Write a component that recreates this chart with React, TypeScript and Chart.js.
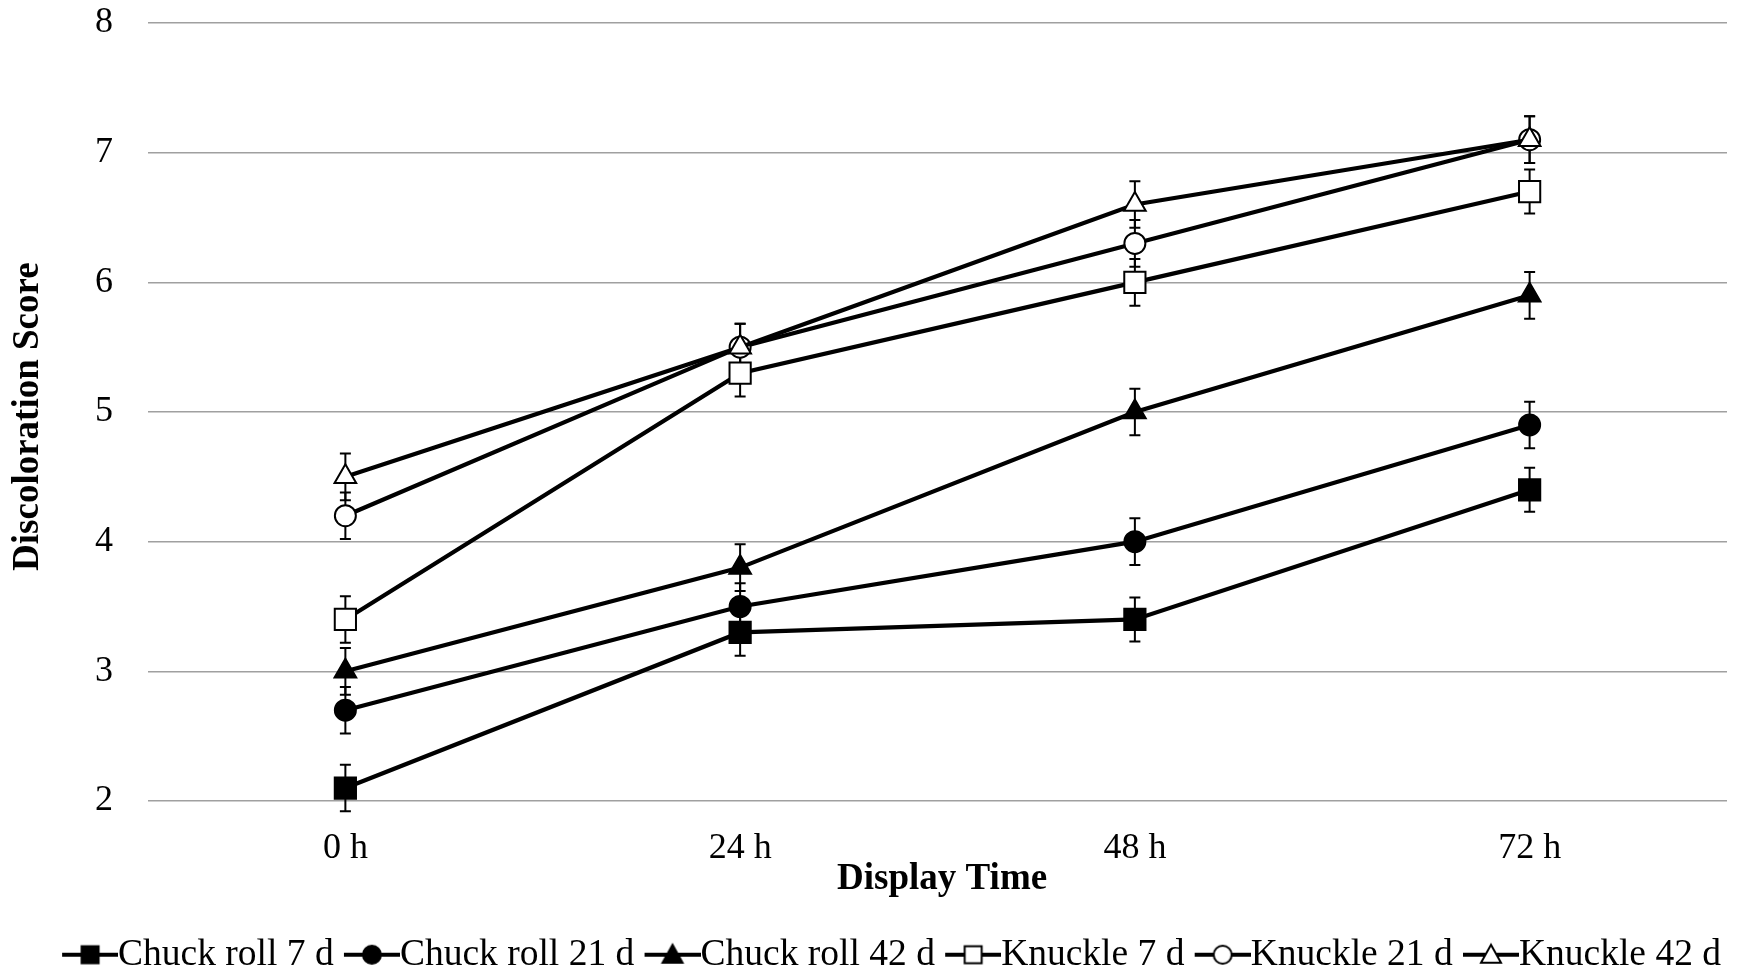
import React, { useEffect, useRef } from "react";
import { Chart, registerables } from "chart.js";

Chart.register(...registerables);

const categories = ["0 h", "24 h", "48 h", "72 h"];
const seriesNames = [
  "Chuck roll 7 d",
  "Chuck roll 21 d",
  "Chuck roll 42 d",
  "Knuckle 7 d",
  "Knuckle 21 d",
  "Knuckle 42 d",
];
const chuck7 = [2.1, 3.3, 3.4, 4.4];
const chuck21 = [2.7, 3.5, 4.0, 4.9];
const chuck42 = [3.0, 3.8, 5.0, 5.9];
const knuckle7 = [3.4, 5.3, 6.0, 6.7];
const knuckle21 = [4.2, 5.5, 6.3, 7.1];
const knuckle42 = [4.5, 5.5, 6.6, 7.1];

const chuck7Err = [0.18, 0.18, 0.17, 0.17];
const chuck21Err = [0.18, 0.18, 0.18, 0.18];
const chuck42Err = [0.18, 0.18, 0.18, 0.18];
const knuckle7Err = [0.18, 0.18, 0.18, 0.17];
const knuckle21Err = [0.18, 0.18, 0.18, 0.18];
const knuckle42Err = [0.18, 0.18, 0.18, 0.18];

const yTicks = [2, 3, 4, 5, 6, 7, 8];

const allValues = [chuck7, chuck21, chuck42, knuckle7, knuckle21, knuckle42];
const allErrors = [chuck7Err, chuck21Err, chuck42Err, knuckle7Err, knuckle21Err, knuckle42Err];
const shapes = ["rect", "circle", "triangle", "rect", "circle", "triangle"];
const filled = [true, true, true, false, false, false];

const SERIF = "'Liberation Serif', 'Times New Roman', serif";
const LEGEND_FONT = 37.5;
const LEGEND_BOX = 47.5;
const SYMBOL_W = 56;

function drawShape(ctx: CanvasRenderingContext2D, shape: string, cx: number, cy: number, fill: boolean) {
  ctx.beginPath();
  if (shape === "rect") {
    const s = 17;
    ctx.rect(cx - s / 2, cy - s / 2, s, s);
  } else if (shape === "circle") {
    ctx.arc(cx, cy, 9, 0, Math.PI * 2);
  } else {
    ctx.moveTo(cx, cy - 10);
    ctx.lineTo(cx + 10, cy + 8);
    ctx.lineTo(cx - 10, cy + 8);
    ctx.closePath();
  }
  ctx.fillStyle = fill ? "#000" : "#fff";
  ctx.fill();
  ctx.lineWidth = 2;
  ctx.strokeStyle = "#000";
  ctx.stroke();
}

// canvas width = box width + font size, so its right edge meets the text start;
// the visible symbol occupies only its right-most SYMBOL_W pixels
function makeLegendSymbol(shape: string, fill: boolean): HTMLCanvasElement {
  const c = document.createElement("canvas");
  const w = Math.round(LEGEND_BOX + LEGEND_FONT);
  c.width = w;
  c.height = 28;
  const ctx = c.getContext("2d")!;
  const x0 = w - SYMBOL_W;
  ctx.strokeStyle = "#000";
  ctx.lineWidth = 4;
  ctx.beginPath();
  ctx.moveTo(x0, 14);
  ctx.lineTo(w, 14);
  ctx.stroke();
  drawShape(ctx, shape, x0 + SYMBOL_W / 2, 14, fill);
  return c;
}

const errorBarPlugin = {
  id: "errorBars",
  beforeDatasetsDraw(chart: any) {
    const ctx = chart.ctx;
    const yScale = chart.scales.y;
    ctx.save();
    ctx.strokeStyle = "#000";
    ctx.lineWidth = 2;
    chart.data.datasets.forEach((ds: any, i: number) => {
      const meta = chart.getDatasetMeta(i);
      const errs = allErrors[i];
      meta.data.forEach((pt: any, j: number) => {
        const v = ds.data[j];
        const e = errs[j];
        const x = pt.x;
        const yt = yScale.getPixelForValue(v + e);
        const yb = yScale.getPixelForValue(v - e);
        ctx.beginPath();
        ctx.moveTo(x, yt);
        ctx.lineTo(x, yb);
        ctx.moveTo(x - 5.5, yt);
        ctx.lineTo(x + 5.5, yt);
        ctx.moveTo(x - 5.5, yb);
        ctx.lineTo(x + 5.5, yb);
        ctx.stroke();
      });
    });
    ctx.restore();
  },
};

// align the legend row's right end with the gridlines' right end
const legendAlignPlugin = {
  id: "legendAlign",
  afterLayout(chart: any) {
    const lg = chart.legend;
    if (!lg || !lg.lineWidths) return;
    const p = lg.options.labels.padding;
    const lw = lg.lineWidths[0];
    const x0 = (lg.left + p + lg.right - lw) / 2;
    const visualEnd = x0 + lw - p;
    const dx = chart.chartArea.right - 6 - visualEnd;
    lg.left += dx;
    lg.right += dx;
  },
};

export default function App() {
  const ref = useRef<HTMLCanvasElement>(null);
  useEffect(() => {
    if (!ref.current) return;
    const radii: Record<string, number> = { rect: 15, circle: 10.5, triangle: 12.5 };
    const symbols = shapes.map((s, i) => makeLegendSymbol(s, filled[i]));
    const chart = new Chart(ref.current, {
      type: "line",
      data: {
        labels: categories,
        datasets: allValues.map((vals, i) => ({
          label: seriesNames[i],
          data: vals,
          borderColor: "#000",
          borderWidth: 4.2,
          backgroundColor: filled[i] ? "#000" : "#fff",
          pointStyle: shapes[i] as any,
          pointRadius: radii[shapes[i]],
          pointBorderWidth: 2,
          pointBorderColor: "#000",
          pointBackgroundColor: filled[i] ? "#000" : "#fff",
          tension: 0,
          fill: false,
          order: 5 - i,
        })),
      },
      options: {
        responsive: false,
        animation: false,
        events: [],
        layout: { autoPadding: false, padding: { top: 23, right: 11, bottom: -11.5, left: 0 } },
        plugins: {
          tooltip: { enabled: false },
          legend: {
            position: "bottom",
            labels: {
              usePointStyle: true,
              pointStyleWidth: LEGEND_BOX,
              padding: 0,
              color: "#000",
              font: { family: SERIF, size: LEGEND_FONT },
              generateLabels: (ch: any) =>
                ch.data.datasets.map((ds: any, i: number) => ({
                  text: ds.label,
                  pointStyle: symbols[i],
                  fillStyle: "#000",
                  strokeStyle: "#000",
                  lineWidth: 0,
                  hidden: false,
                  datasetIndex: i,
                  fontColor: "#000",
                })),
            },
          },
        },
        scales: {
          x: {
            type: "category",
            offset: true,
            grid: { display: false, drawTicks: false },
            border: { display: false },
            ticks: {
              color: "#000",
              padding: 26,
              font: { family: SERIF, size: 36 },
            },
            title: {
              display: true,
              text: " Display Time",
              color: "#000",
              font: { family: SERIF, size: 37, weight: "bold" },
              padding: { top: 0, bottom: 34.3 },
            },
            afterFit: (scale: any) => {
              scale.height = 135;
              scale.paddingLeft = 0;
              scale.paddingRight = 0;
            },
          },
          y: {
            min: 2,
            max: 8,
            afterBuildTicks: (scale: any) => {
              scale.ticks = yTicks.map((v) => ({ value: v }));
            },
            grid: { color: "#a0a0a0", lineWidth: 1.5, drawTicks: false },
            border: { display: false },
            ticks: {
              color: "#000",
              padding: 35,
              font: { family: SERIF, size: 36 },
            },
            title: {
              display: true,
              text: "Discoloration Score ",
              color: "#000",
              font: { family: SERIF, size: 37, weight: "bold" },
              padding: { top: 5.8, bottom: 0 },
            },
            afterFit: (scale: any) => {
              scale.width = 148;
              scale.paddingTop = 0;
              scale.paddingBottom = 0;
            },
          },
        },
      },
      plugins: [errorBarPlugin, legendAlignPlugin],
    });
    return () => chart.destroy();
  }, []);
  return (
    <div style={{ position: "fixed", left: 0, top: 0, width: 1738, height: 972, background: "#fff" }}>
      <canvas ref={ref} width={1738} height={972} style={{ display: "block" }} />
    </div>
  );
}
